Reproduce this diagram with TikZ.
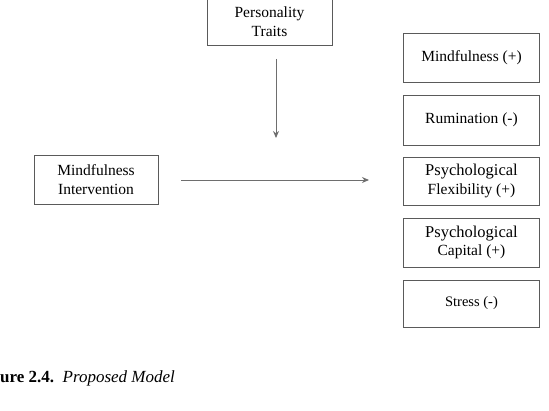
\documentclass[tikz,border=0pt]{standalone}
\usepackage{fontspec}
\setmainfont{Liberation Serif}
\usetikzlibrary{arrows.meta}
\definecolor{boxgray}{HTML}{5A5A5A}
\definecolor{arrowgray}{HTML}{6E6E6E}
\tikzset{
  box/.style={draw=boxgray, line width=0.9pt, rectangle, align=center,
    inner sep=0pt, font=\fontsize{15.5}{18.5}\selectfont},
  link/.style={draw=arrowgray, line width=1pt, -{Stealth[length=7pt,width=6pt]}}
}
\begin{document}
\begin{tikzpicture}[x=1pt,y=-1pt]
\useasboundingbox (0,0) rectangle (549,410);

% moderator and predictor
\node [box, minimum width=125pt, minimum height=48pt] (traits) at (269.5,21.5) {Personality\\Traits};
\node [box, minimum width=124pt, minimum height=49pt] (interv) at (96,179.5) {Mindfulness\\Intervention};

% outcomes
\node [box, minimum width=136pt, minimum height=49pt] (mind) at (471.5,57.5) {Mindfulness (+)};
\node [box, minimum width=136pt, minimum height=50pt] (rum) at (471.5,120) {Rumination (-)};
\node [box, minimum width=136pt, minimum height=48pt] (flex) at (471.5,181) {{\fontsize{16.5}{18}\selectfont Psychological}\\Flexibility (+)};
\node [box, minimum width=136pt, minimum height=49pt] (cap) at (471.5,242.5) {{\fontsize{16.5}{18}\selectfont Psychological}\\Capital (+)};
\node [box, minimum width=136pt, minimum height=47pt] (stress) at (471.5,303.5) {\fontsize{14.5}{18}\selectfont Stress (-)};

% arrows
\coordinate (downtip) at (276,138);
\coordinate (righttip) at (369,180);
\draw [link] ([xshift=6.5pt,yshift=-13pt]traits.south) -- (downtip);
\draw [link] ([xshift=23pt]interv.east |- righttip) -- (righttip);

% caption
\node [anchor=west, inner sep=0pt, font=\fontsize{17}{20}\selectfont] (caption) at (0,378) {\textbf{ure 2.4.}\ \ \textit{Proposed Model}};
\end{tikzpicture}
\end{document}
